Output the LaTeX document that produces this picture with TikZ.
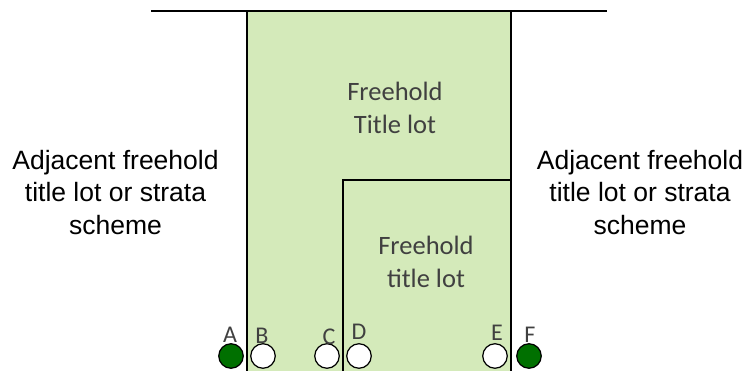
\documentclass[tikz,border=0pt]{standalone}
\usepackage{fontspec}
\setmainfont{Liberation Sans}
\newfontfamily\calib{Carlito}
\definecolor{lotgreen}{RGB}{212,234,186}
\definecolor{dotgreen}{RGB}{0,112,0}
\definecolor{txtgray}{RGB}{64,64,64}
\begin{document}
\begin{tikzpicture}[x=1pt,y=-1pt,
  lotline/.style={draw=black,line width=1.6pt},
  sidetext/.style={align=center,font=\fontsize{26.5}{32.5}\selectfont,inner sep=0pt},
  lottext/.style={align=center,font=\calib\fontsize{26.5}{33}\selectfont,text=txtgray,inner sep=0pt},
  lettertext/.style={font=\calib\fontsize{24}{26}\selectfont,text=txtgray,inner sep=0pt,anchor=base},
  opendot/.style={circle,draw=black,line width=1.2pt,fill=white,minimum size=24.5pt,inner sep=0pt},
  fulldot/.style={circle,draw=black,line width=1.2pt,fill=dotgreen,minimum size=24.5pt,inner sep=0pt}]
\useasboundingbox (0,0) rectangle (750,371);
% boundary points
\coordinate (tl) at (151,11);
\coordinate (tr) at (607,11);
\coordinate (o1) at (247,11);
\coordinate (o2) at (511,11);
\coordinate (o3) at (511,375);
\coordinate (o4) at (247,375);
\coordinate (i1) at (343,180);
\coordinate (i2) at (511,180);
\coordinate (i4) at (343,375);
\fill[lotgreen] (o1) rectangle (o3);
\draw[lotline] (tl) -- (tr);
\draw[lotline] (o4) -- (o1) -- (o2) -- (o3);
\draw[lotline] (i4) -- (i1) -- (i2);
% texts
\node[lottext,anchor=north] (big) at (395,82) {Freehold\\Title lot};
\node[lottext,anchor=north] (small) at (426,236) {Freehold\\title lot};
\node[sidetext,anchor=north] (left) at (115.5,150) {Adjacent freehold\\title lot or strata\\scheme};
\node[sidetext,anchor=north] (right) at (640,150) {Adjacent freehold\\title lot or strata\\scheme};
% points
\node[fulldot] (A) at (231,356) {};
\node[opendot] (B) at (263,356) {};
\node[opendot] (C) at (327,356) {};
\node[opendot] (D) at (359,356) {};
\node[opendot] (E) at (495,356) {};
\node[fulldot] (F) at (529,356) {};
\node[lettertext] (la) at (230,343) {A};
\node[lettertext] (lb) at (262,344) {B};
\node[lettertext] (lc) at (329,345) {C};
\node[lettertext] (ld) at (359,340) {D};
\node[lettertext] (le) at (497,341) {E};
\node[lettertext] (lf) at (530,343) {F};
\end{tikzpicture}
\end{document}
